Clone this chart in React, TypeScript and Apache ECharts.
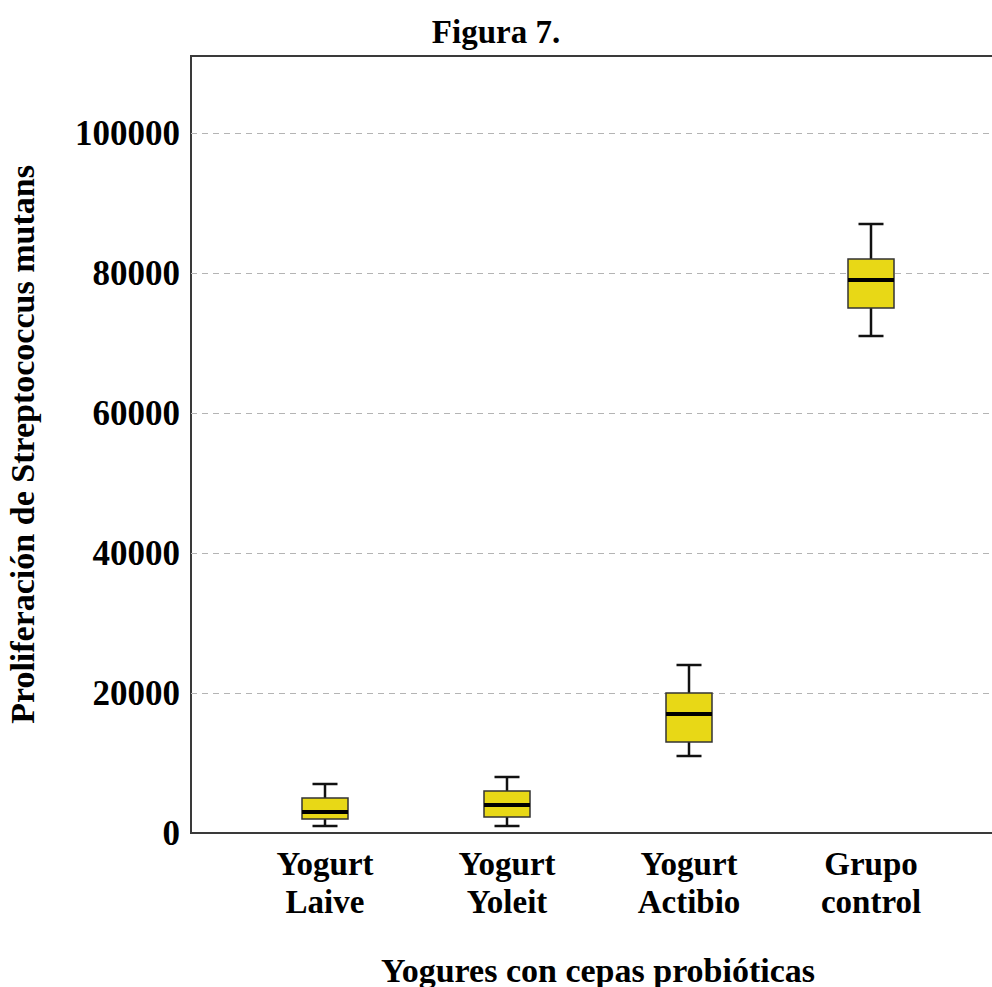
import React, { useEffect, useRef } from "react";
import * as echarts from "echarts";

const categories = ["Yogurt\nLaive", "Yogurt\nYoleit", "Yogurt\nActibio", "Grupo\ncontrol"];
// [min, Q1, median, Q3, max]
const laive = [1000, 2000, 3000, 5000, 7000];
const yoleit = [1000, 2300, 4000, 6000, 8000];
const actibio = [11000, 13000, 17000, 20000, 24000];
const control = [71000, 75000, 79000, 82000, 87000];
const boxData = [laive, yoleit, actibio, control];

const FONT = "'Liberation Serif', 'Times New Roman', serif";

export default function App() {
  const ref = useRef<HTMLDivElement>(null);
  useEffect(() => {
    if (!ref.current) return;
    const chart = echarts.init(ref.current, null, { renderer: "svg" });
    const yMax = 111000;
    chart.setOption({
      animation: false,
      backgroundColor: "#ffffff",
      title: {
        text: "Figura 7.",
        left: "center",
        top: 10,
        textStyle: { fontFamily: FONT, fontWeight: "bold", fontSize: 33, color: "#000" },
      },
      grid: [
        { left: 191, top: 56, right: -13, bottom: 154, show: true, borderColor: "#3a3a3a", borderWidth: 2, backgroundColor: "transparent", outerBoundsMode: "none", containLabel: false },
        { left: 234, top: 56, right: 30, bottom: 154, outerBoundsMode: "none", containLabel: false },
      ],
      xAxis: [
        {
          gridIndex: 0,
          type: "value",
          min: 0,
          max: 1,
          axisLine: { show: false },
          axisTick: { show: false },
          axisLabel: { show: false },
          splitLine: { show: false },
          name: "Yogures con cepas probióticas",
          nameLocation: "middle",
          nameGap: 120,
          nameTextStyle: { fontFamily: FONT, fontWeight: "bold", fontSize: 34, color: "#000" },
        },
        {
          gridIndex: 1,
          type: "category",
          data: categories,
          axisLine: { show: false },
          axisTick: { show: false },
          axisLabel: {
            margin: 12,
            fontFamily: FONT,
            fontWeight: "bold",
            fontSize: 33,
            lineHeight: 38,
            color: "#000",
            interval: 0,
          },
        },
      ],
      yAxis: [
        {
          gridIndex: 0,
          type: "value",
          min: 0,
          max: yMax,
          interval: 20000,
          axisLine: { show: false },
          axisTick: { show: false },
          axisLabel: {
            margin: 11,
            showMaxLabel: false,
            fontFamily: FONT,
            fontWeight: "bold",
            fontSize: 35,
            color: "#000",
            formatter: (v: number) => (v % 20000 === 0 ? String(v) : ""),
          },
          splitLine: {
            show: true,
            showMinLine: false,
            showMaxLine: false,
            lineStyle: { color: "#b4b4b4", type: [6, 5], width: 1.2 },
          },
          name: "Proliferación de Streptococcus mutans",
          nameLocation: "middle",
          nameGap: 152,
          nameTextStyle: { fontFamily: FONT, fontWeight: "bold", fontSize: 34, color: "#000" },
        },
        {
          gridIndex: 1,
          type: "value",
          min: 0,
          max: yMax,
          show: false,
        },
      ],
      series: [
        {
          type: "custom",
          xAxisIndex: 1,
          yAxisIndex: 1,
          data: boxData.map((d, i) => [i, ...d]),
          renderItem: (params: any, api: any) => {
            const i = api.value(0);
            const lo = api.coord([i, api.value(1)]);
            const q1 = api.coord([i, api.value(2)]);
            const med = api.coord([i, api.value(3)]);
            const q3 = api.coord([i, api.value(4)]);
            const hi = api.coord([i, api.value(5)]);
            const x = lo[0];
            const bw = 46;
            const cw = 25;
            const lineStyle = { stroke: "#111", lineWidth: 2.5 };
            return {
              type: "group",
              children: [
                { type: "line", shape: { x1: x, y1: q3[1], x2: x, y2: hi[1] }, style: lineStyle },
                { type: "line", shape: { x1: x, y1: lo[1], x2: x, y2: q1[1] }, style: lineStyle },
                { type: "line", shape: { x1: x - cw / 2, y1: hi[1], x2: x + cw / 2, y2: hi[1] }, style: lineStyle },
                { type: "line", shape: { x1: x - cw / 2, y1: lo[1], x2: x + cw / 2, y2: lo[1] }, style: lineStyle },
                {
                  type: "rect",
                  shape: { x: x - bw / 2, y: q3[1], width: bw, height: q1[1] - q3[1] },
                  style: { fill: "#e8d816", stroke: "#333", lineWidth: 1.5 },
                },
                { type: "line", shape: { x1: x - bw / 2, y1: med[1], x2: x + bw / 2, y2: med[1] }, style: { stroke: "#000", lineWidth: 4 } },
              ],
            };
          },
        },
      ],
    });
    return () => chart.dispose();
  }, []);
  return <div ref={ref} style={{ position: "fixed", left: 0, top: 0, width: 992, height: 987 }} />;
}
